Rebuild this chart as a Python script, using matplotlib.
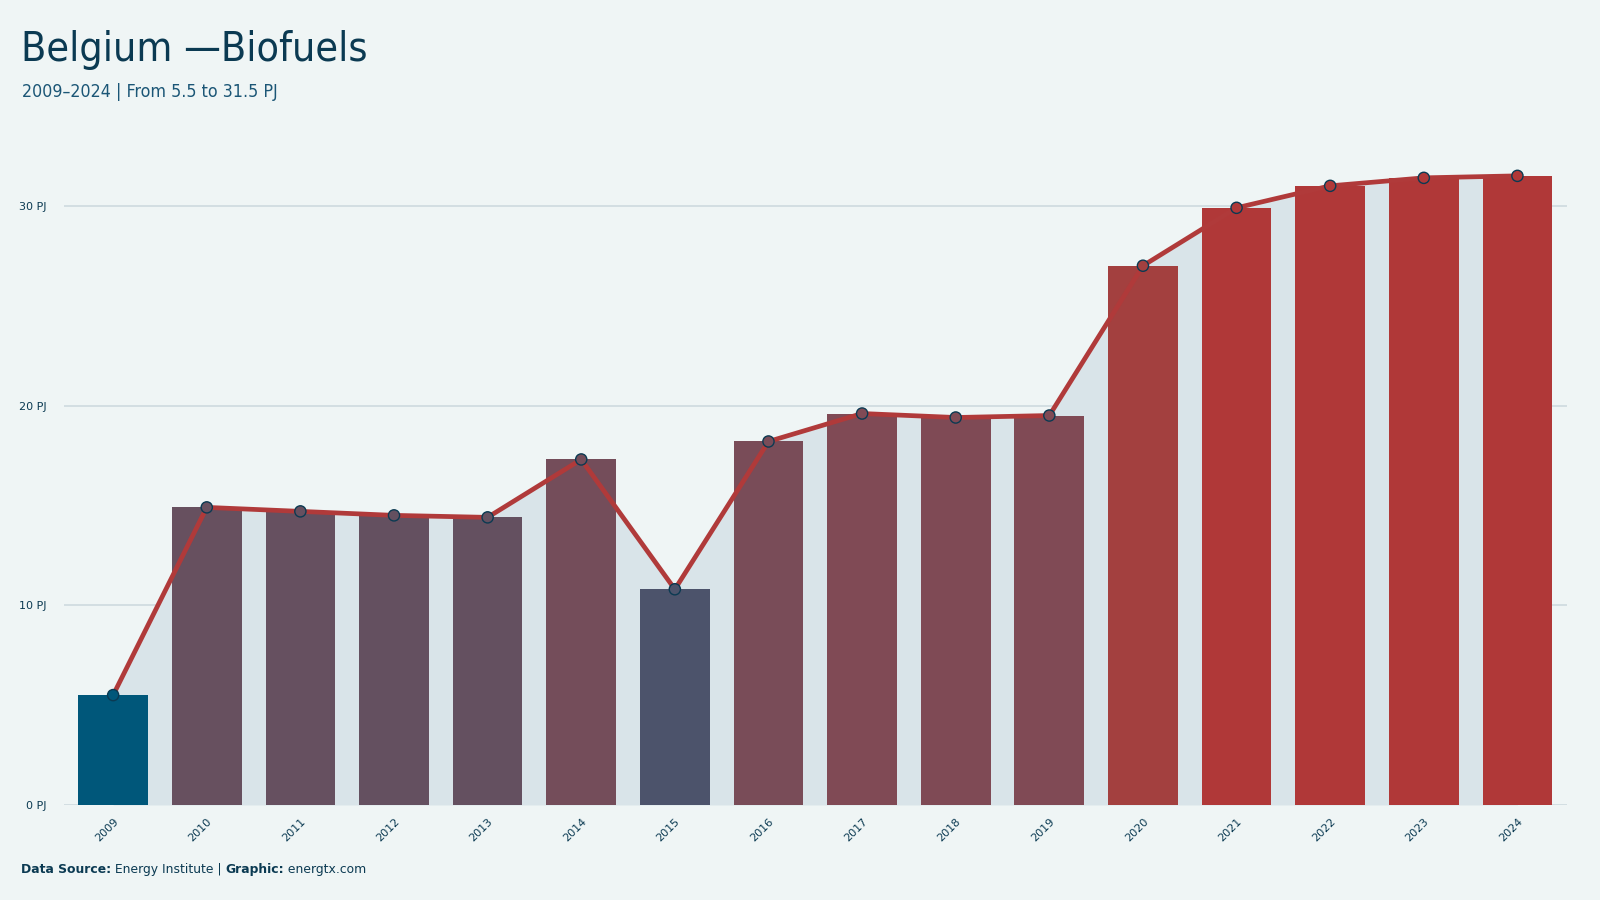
import matplotlib
matplotlib.use("Agg")
import matplotlib.pyplot as plt
import numpy as np
from matplotlib.colors import LinearSegmentedColormap, Normalize
from matplotlib import font_manager

years = ["2009", "2010", "2011", "2012", "2013", "2014", "2015", "2016",
         "2017", "2018", "2019", "2020", "2021", "2022", "2023", "2024"]
values = [5.5, 14.9, 14.7, 14.5, 14.4, 17.3, 10.8, 18.2,
          19.6, 19.4, 19.5, 27.0, 29.9, 31.0, 31.4, 31.5]
yticks = [0, 10, 20, 30]
ytick_labels = ["0 PJ", "10 PJ", "20 PJ", "30 PJ"]

title = "Belgium \u2014Biofuels"
subtitle = "2009\u20132024 | From 5.5 to 31.5 PJ"
footer = [("Data Source:", "bold"), (" Energy Institute | ", "normal"),
          ("Graphic:", "bold"), (" energtx.com", "normal")]

BG = "#eff5f5"
NAVY = "#0b3a52"
cmap = LinearSegmentedColormap.from_list(
    "bio",
    [(0.0, "#00577a"), (0.2, "#4b536b"), (0.36, "#67505f"),
     (0.54, "#804a55"), (0.83, "#a3403f"), (0.94, "#b03838"), (1.0, "#b03838")])
norm = Normalize(vmin=min(values), vmax=max(values))
colors = [cmap(norm(v)) for v in values]

cond = [f.fname for f in font_manager.fontManager.ttflist
        if f.fname.endswith("DejaVuSansCondensed.ttf")]
cond_fp = font_manager.FontProperties(fname=cond[0]) if cond else \
    font_manager.FontProperties(family="DejaVu Sans", stretch="condensed")

fig = plt.figure(figsize=(16, 9), dpi=100, facecolor=BG)
ax = fig.add_axes([0.0397, 0.1056, 0.9397, 0.7334])
ax.set_facecolor(BG)

x = np.arange(len(years))
ax.fill_between(x, values, 0, color="#d9e4e9", zorder=1, linewidth=0)
ax.bar(x, values, width=0.745, color=colors, zorder=2, linewidth=0)
ax.plot(x, values, color="#b03a3a", linewidth=3.4, zorder=3, solid_capstyle="round")
ax.scatter(x, values, s=65, c=colors, edgecolors=NAVY, linewidths=1.0, zorder=4)

ax.set_xlim(-0.53, 15.53)
ax.set_ylim(0, 33.05)
ax.set_yticks(yticks)
ax.set_yticklabels(ytick_labels)
ax.set_xticks(x)
ax.set_xticklabels(years, rotation=45, ha="right", rotation_mode="anchor")
ax.tick_params(axis="both", length=0, colors=NAVY, labelsize=8)
ax.tick_params(axis="y", pad=12)
ax.tick_params(axis="x", pad=8)
ax.grid(axis="y", color="#d3dee2", linewidth=1.4, zorder=0)
ax.set_axisbelow(True)
for s in ax.spines.values():
    s.set_visible(False)
ax.axhline(0, color="#c9d4d8", linewidth=1, linestyle=":", zorder=0.5)

fp_t = cond_fp.copy(); fp_t.set_size(29.5)
fp_s = cond_fp.copy(); fp_s.set_size(12.8)
fig.text(0.013, 0.945, title, fontproperties=fp_t, color=NAVY, va="center", ha="left")
fig.text(0.0135, 0.898, subtitle, fontproperties=fp_s, color="#1b5676", va="center", ha="left")

renderer = fig.canvas.get_renderer()
xpos = 0.013
for txt, w in footer:
    tt = fig.text(xpos, 0.034, txt, fontsize=8.9, color=NAVY, weight=w,
                  va="center", ha="left")
    bb = tt.get_window_extent(renderer=renderer)
    xpos += bb.width / fig.bbox.width

fig.savefig("out.png", dpi=100, facecolor=BG)
